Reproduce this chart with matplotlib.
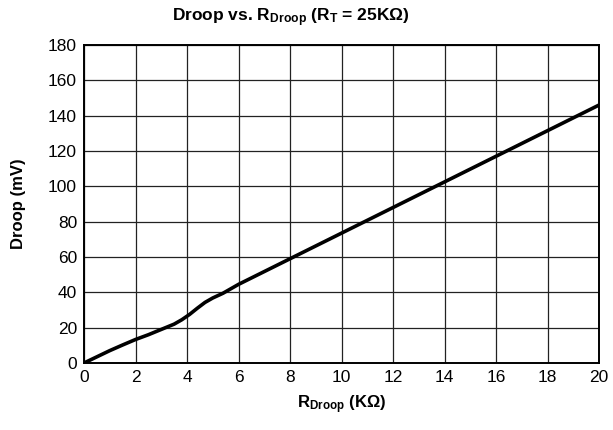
import matplotlib
matplotlib.use("Agg")
import matplotlib.pyplot as plt

plt.rcParams['font.family'] = ['Liberation Sans', 'DejaVu Sans']
plt.rcParams['mathtext.fontset'] = 'custom'
plt.rcParams['mathtext.rm'] = 'Liberation Sans:bold'
plt.rcParams['mathtext.bf'] = 'Liberation Sans:bold'
plt.rcParams['mathtext.it'] = 'Liberation Sans:bold'

r_droop = [0, 0.5, 1.0, 1.5, 2.0, 2.5, 3.0, 3.5, 3.8, 4.1, 4.4, 4.7, 5.0, 5.4, 6, 8, 10, 12, 14, 16, 18, 20]
droop = [0, 3.5, 7, 10.2, 13.3, 16, 19, 22, 24.5, 27.5, 31, 34.3, 36.8, 39.5, 44.5, 59, 73.5, 88, 102.5, 117, 131.5, 146]

x_ticks = [0, 2, 4, 6, 8, 10, 12, 14, 16, 18, 20]
y_ticks = [0, 20, 40, 60, 80, 100, 120, 140, 160, 180]

fig = plt.figure(figsize=(6.13, 4.30), dpi=100)
ax = fig.add_axes([84/613, 1-363/430, (599-84)/613, (363-45)/430])
ax.plot(r_droop, droop, color='black', lw=2.6, solid_capstyle='round', zorder=3)
ax.set_xlim(0, 20)
ax.set_ylim(0, 180)
ax.set_xticks(x_ticks)
ax.set_yticks(y_ticks)
ax.grid(True, color='#222222', lw=0.9)
ax.tick_params(length=0, labelsize=12.5, pad=5)
for s in ax.spines.values():
    s.set_linewidth(1.4)
    s.set_color('black')
ax.set_xlabel(r"$\mathbf{R_{Droop}}$ (KΩ)", fontsize=12, fontweight='bold', labelpad=6)
ax.set_ylabel("Droop (mV)", fontsize=12, fontweight='bold', labelpad=16)
fig.text(291/613, 1-18/430, r"Droop vs. $\mathbf{R_{Droop}}$ ($\mathbf{R_T}$ = 25KΩ)",
         fontsize=12.5, fontweight='bold', ha='center', va='center')
fig.savefig("out.png", dpi=100)
